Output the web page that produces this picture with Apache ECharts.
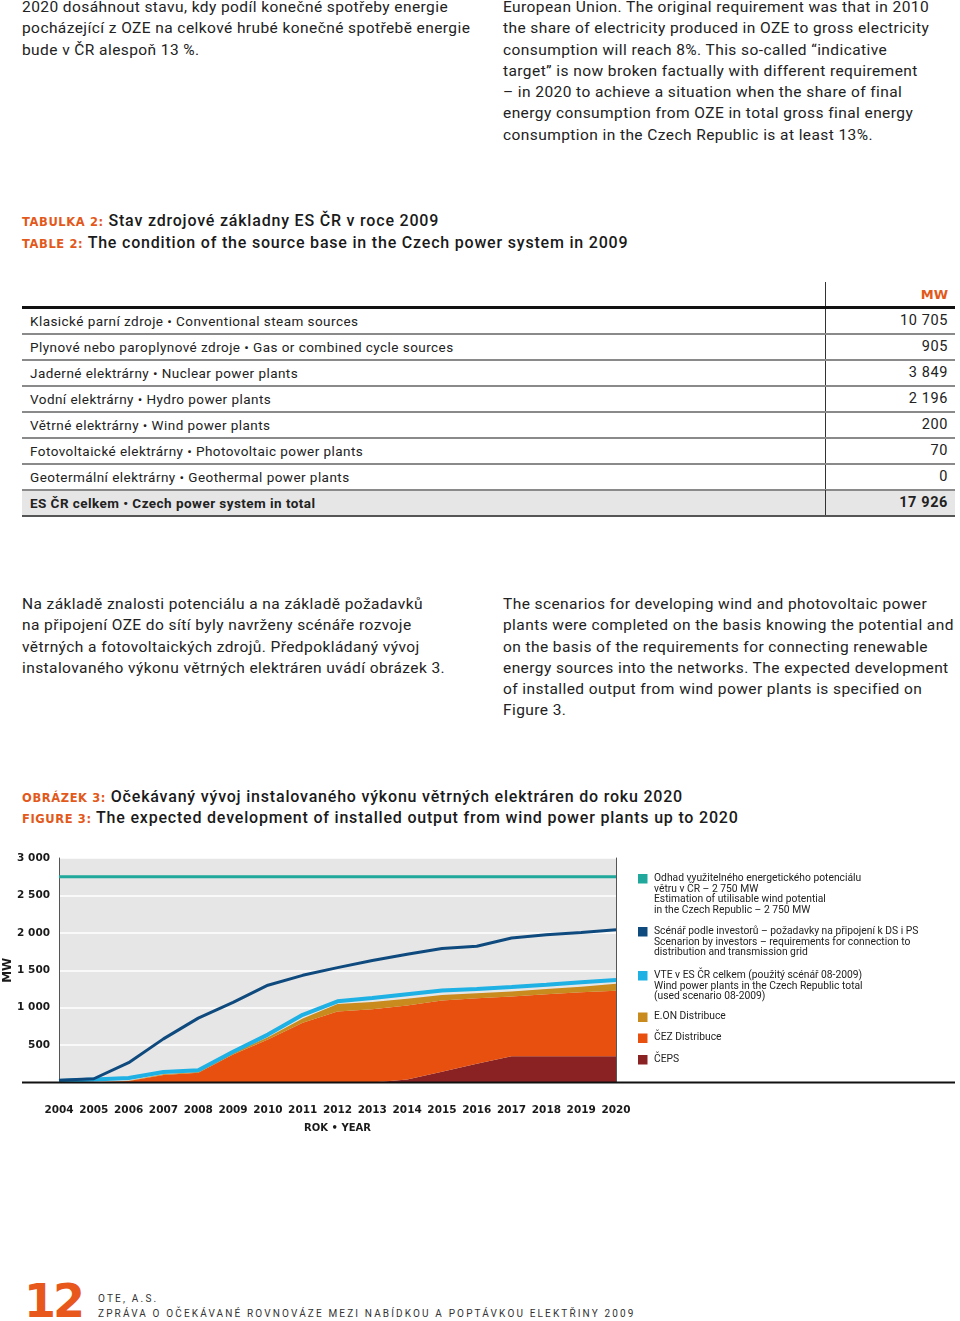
<!DOCTYPE html>
<html><head><meta charset="utf-8">
<script src="https://cdn.jsdelivr.net/npm/echarts@6/dist/echarts.min.js"></script>
<style>
html,body{margin:0;padding:0;background:#fff;}
body{width:960px;height:1321px;position:relative;overflow:hidden;font-family:Roboto,"DejaVu Sans",sans-serif;color:#1a1a1a;}
.p{position:absolute;font-size:15.5px;line-height:21.3px;white-space:nowrap;font-weight:400;letter-spacing:0.42px;color:#222;}
.h{position:absolute;white-space:nowrap;font-weight:500;font-size:16px;line-height:22px;letter-spacing:0.8px;}
.h span{color:#e2591b;font-size:11.5px;letter-spacing:0.6px;font-weight:700;font-family:"DejaVu Sans",sans-serif;}
.cell{position:absolute;font-size:13.5px;white-space:nowrap;font-weight:400;line-height:26px;letter-spacing:0.45px;color:#222;}
.val{font-size:14.5px;letter-spacing:0.6px;}
#chart{position:absolute;left:0;top:840px;width:960px;height:310px;}
</style></head><body>
<div class="p" style="left:22px;top:-3px">2020 dosáhnout stavu, kdy podíl konečné spotřeby energie<br>pocházející z OZE na celkové hrubé konečné spotřebě energie<br>bude v ČR alespoň 13 %.</div>
<div class="p" style="left:503px;top:-3px">European Union. The original requirement was that in 2010<br>the share of electricity produced in OZE to gross electricity<br>consumption will reach 8%. This so-called “indicative<br>target” is now broken factually with different requirement<br>– in 2020 to achieve a situation when the share of final<br>energy consumption from OZE in total gross final energy<br>consumption in the Czech Republic is at least 13%.</div>

<div class="h" style="left:22px;top:210px"><span>TABULKA 2:</span> Stav zdrojové základny ES ČR v roce 2009</div>
<div class="h" style="left:22px;top:232px"><span>TABLE 2:</span> The condition of the source base in the Czech power system in 2009</div>

<div id="table"></div>

<div class="p" style="left:22px;top:594px">Na základě znalosti potenciálu a na základě požadavků<br>na připojení OZE do sítí byly navrženy scénáře rozvoje<br>větrných a fotovoltaických zdrojů. Předpokládaný vývoj<br>instalovaného výkonu větrných elektráren uvádí obrázek 3.</div>
<div class="p" style="left:503px;top:594px">The scenarios for developing wind and photovoltaic power<br>plants were completed on the basis knowing the potential and<br>on the basis of the requirements for connecting renewable<br>energy sources into the networks. The expected development<br>of installed output from wind power plants is specified on<br>Figure 3.</div>

<div class="h" style="left:22px;top:786px"><span>OBRÁZEK 3:</span> Očekávaný vývoj instalovaného výkonu větrných elektráren do roku 2020</div>
<div class="h" style="left:22px;top:807px"><span>FIGURE 3:</span> The expected development of installed output from wind power plants up to 2020</div>

<div id="chart"></div>

<div style="position:absolute;left:24px;top:1278px;font-size:46px;font-weight:900;color:#e8581c;line-height:46px;font-family:'DejaVu Sans',sans-serif;letter-spacing:-3px">12</div>
<div style="position:absolute;left:98px;top:1293px;font-size:10px;letter-spacing:2.2px;color:#333;line-height:12px">OTE, A.S.</div>
<div style="position:absolute;left:98px;top:1308px;font-size:10px;letter-spacing:2.15px;color:#333;line-height:12px">ZPRÁVA O OČEKÁVANÉ ROVNOVÁZE MEZI NABÍDKOU A POPTÁVKOU ELEKTŘINY 2009</div>

<script>
// ---- table data ----
var tableLabels = [
  'Klasické parní zdroje • Conventional steam sources',
  'Plynové nebo paroplynové zdroje • Gas or combined cycle sources',
  'Jaderné elektrárny • Nuclear power plants',
  'Vodní elektrárny • Hydro power plants',
  'Větrné elektrárny • Wind power plants',
  'Fotovoltaické elektrárny • Photovoltaic power plants',
  'Geotermální elektrárny • Geothermal power plants'
];
var tableValues = ['10 705', '905', '3 849', '2 196', '200', '70', '0'];
var tableTotalLabel = 'ES ČR celkem • Czech power system in total';
var tableTotalValue = '17 926';
var tableUnit = 'MW';

// ---- chart data ----
var years = ['2004','2005','2006','2007','2008','2009','2010','2011','2012','2013','2014','2015','2016','2017','2018','2019','2020'];
var potential = [2750,2750,2750,2750,2750,2750,2750,2750,2750,2750,2750,2750,2750,2750,2750,2750,2750];
var investors = [30,50,265,583,860,1070,1300,1432,1535,1630,1715,1790,1820,1930,1975,2005,2040];
var vteTotal = [20,40,60,140,165,410,640,905,1085,1130,1180,1230,1250,1275,1305,1340,1370];
var ceps = [0,0,0,0,0,0,0,0,0,0,40,145,250,350,350,350,350];
var cez = [0,5,20,100,130,375,575,800,950,980,990,950,877,800,830,855,875];
var eon = [0,0,5,10,10,20,30,55,100,95,90,75,65,65,70,75,95];
var legendLabels = [
  'Odhad využitelného energetického potenciálu\nvětru v ČR – 2 750 MW\nEstimation of utilisable wind potential\nin the Czech Republic – 2 750 MW',
  'Scénář podle investorů – požadavky na připojení k DS i PS\nScenarion by investors – requirements for connection to\ndistribution and transmission grid',
  'VTE v ES ČR celkem (použitý scénář 08-2009)\nWind power plants in the Czech Republic total\n(used scenario 08-2009)',
  'E.ON Distribuce',
  'ČEZ Distribuce',
  'ČEPS'
];
var colors = {pot:'#1fa89b', inv:'#0f4a7e', vte:'#1fb0e4', eon:'#c98a1e', cez:'#e8500f', ceps:'#8a2122'};

// ---- build table ----
(function(){
  var t = document.getElementById('table');
  var html = '';
  var top0 = 308, rh = 26, x0 = 22, x1 = 955, vx = 825;
  html += '<div style="position:absolute;left:'+vx+'px;top:282px;width:1px;height:234px;background:#333"></div>';
  html += '<div class="cell" style="left:'+(vx+10)+'px;width:113px;text-align:right;top:282px;font-weight:700;color:#e2591b;font-family:\'DejaVu Sans\',sans-serif;font-size:13px;letter-spacing:0">'+tableUnit+'</div>';
  for (var i=0;i<tableLabels.length;i++){
    var y = top0 + i*rh;
    html += '<div class="cell" style="left:30px;top:'+y+'px">'+tableLabels[i]+'</div>';
    html += '<div class="cell val" style="left:'+(vx+10)+'px;width:113px;text-align:right;top:'+y+'px">'+tableValues[i]+'</div>';
    html += '<div style="position:absolute;left:'+x0+'px;top:'+(y+rh-1)+'px;width:'+(x1-x0)+'px;height:1.5px;background:#8a8a8a"></div>';
  }
  var yt = top0 + tableLabels.length*rh;
  html += '<div style="position:absolute;left:'+x0+'px;top:'+(yt+1)+'px;width:'+(x1-x0)+'px;height:'+(rh-1)+'px;background:#e6e6e6"></div>';
  html += '<div style="position:absolute;left:'+vx+'px;top:'+yt+'px;width:1px;height:'+rh+'px;background:#333"></div>';
  html += '<div class="cell" style="left:30px;top:'+yt+'px;font-weight:700">'+tableTotalLabel+'</div>';
  html += '<div class="cell val" style="left:'+(vx+10)+'px;width:113px;text-align:right;top:'+yt+'px;font-weight:700">'+tableTotalValue+'</div>';
  html += '<div style="position:absolute;left:'+x0+'px;top:'+(yt+rh-1)+'px;width:'+(x1-x0)+'px;height:1.5px;background:#555"></div>';
  html += '<div style="position:absolute;left:'+x0+'px;top:306px;width:'+(x1-x0)+'px;height:2.5px;background:#111"></div>';
  t.innerHTML = html;
})();

// ---- chart ----
var chart = echarts.init(document.getElementById('chart'), null, {renderer:'canvas'});
var CT = 840; // chart container top on page
var legendColors = [colors.pot, colors.inv, colors.vte, colors.eon, colors.cez, colors.ceps];
var legendTops = [874, 927, 971, 1012.5, 1033.5, 1055];
var graphics = [];
for (var i=0;i<legendLabels.length;i++){
  graphics.push({type:'rect', left:638, top:legendTops[i]-CT, shape:{width:9.5,height:9.5}, style:{fill:legendColors[i]}});
  graphics.push({type:'text', left:654, top:legendTops[i]-CT-1, style:{text:legendLabels[i], font:'400 10.3px Roboto', fill:'#222', lineHeight:10.7}});
}
graphics.push({type:'line', shape:{x1:22,y1:1082.5-CT,x2:955,y2:1082.5-CT}, style:{stroke:'#111',lineWidth:2.2}, z:100});

function fmt(v){ if(v===0) return ''; var s=String(v); return s.length>3 ? s.slice(0,s.length-3)+' '+s.slice(-3) : s; }

chart.setOption({
  animation:false,
  grid:{left:59, top:858-CT, width:557, height:1082.5-858, show:true, backgroundColor:'#e6e6e6', borderWidth:0, containLabel:false, outerBoundsMode:'none'},
  xAxis:{type:'category', data:years, boundaryGap:false,
    axisLine:{show:false}, axisTick:{show:false},
    axisLabel:{interval:0, margin:22, color:'#1a1a1a', fontWeight:'bold', fontSize:10.5, fontFamily:'DejaVu Sans', hideOverlap:false},
    name:'ROK • YEAR', nameLocation:'middle', nameGap:41, nameMoveOverlap:false,
    nameTextStyle:{color:'#1a1a1a', fontWeight:'bold', fontSize:10, fontFamily:'DejaVu Sans'}},
  yAxis:[{type:'value', min:0, max:3000, interval:500,
    axisLine:{show:true, lineStyle:{color:'#555', width:1}}, axisTick:{show:false},
    axisLabel:{margin:9, color:'#1a1a1a', fontWeight:'bold', fontSize:10.5, fontFamily:'DejaVu Sans', formatter:fmt},
    splitLine:{show:true, lineStyle:{color:'#ffffff', width:1.6}},
    name:'MW', nameLocation:'middle', nameGap:45, nameRotate:90, nameMoveOverlap:false,
    nameTextStyle:{color:'#1a1a1a', fontWeight:'bold', fontSize:12, fontFamily:'DejaVu Sans'}},
   {type:'value', min:0, max:3000, interval:500, position:'right',
    axisLine:{show:true, lineStyle:{color:'#555', width:1}}, axisTick:{show:false},
    axisLabel:{show:false}, splitLine:{show:false}}],
  graphic:graphics,
  series:[
    {name:'ČEPS', type:'line', stack:'a', data:ceps, symbol:'none', lineStyle:{width:0}, areaStyle:{color:colors.ceps, opacity:1}, itemStyle:{color:colors.ceps}},
    {name:'ČEZ Distribuce', type:'line', stack:'a', data:cez, symbol:'none', lineStyle:{width:0}, areaStyle:{color:colors.cez, opacity:1}, itemStyle:{color:colors.cez}},
    {name:'E.ON Distribuce', type:'line', stack:'a', data:eon, symbol:'none', lineStyle:{width:0}, areaStyle:{color:colors.eon, opacity:1}, itemStyle:{color:colors.eon}},
    {name:'VTE', type:'line', data:vteTotal, symbol:'none', lineStyle:{width:4, color:colors.vte}, itemStyle:{color:colors.vte}},
    {name:'Investors', type:'line', data:investors, symbol:'none', lineStyle:{width:3, color:colors.inv}, itemStyle:{color:colors.inv}},
    {name:'Potential', type:'line', data:potential, symbol:'none', lineStyle:{width:3, color:colors.pot}, itemStyle:{color:colors.pot}}
  ]
});
</script>
</body></html>
